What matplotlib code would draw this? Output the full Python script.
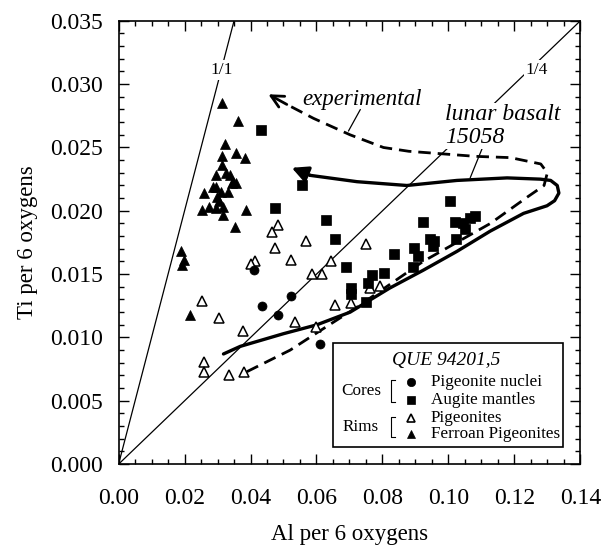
import numpy as np
import matplotlib.pyplot as plt
from matplotlib.ticker import MultipleLocator, FormatStrFormatter

plt.rcParams['font.family'] = ['Liberation Serif', 'DejaVu Serif']

# QUE 94201,5 pyroxene analyses (Al, Ti per 6 oxygens)
# cores: pigeonite nuclei
nuc_al = [0.0410, 0.0434, 0.0483, 0.0524, 0.0610]
nuc_ti = [0.0153, 0.0125, 0.0118, 0.0133, 0.0095]

# cores: augite mantles
aug_al = [0.0431, 0.0473, 0.0556, 0.0630, 0.0655, 0.0689, 0.0704, 0.0704, 0.0749,
          0.0756, 0.0767, 0.0805, 0.0834, 0.0896, 0.0908, 0.0893, 0.0923, 0.0944,
          0.0956, 0.0954, 0.1006, 0.1019, 0.1045, 0.1050, 0.1022, 0.1080, 0.1065]
aug_ti = [0.0264, 0.0202, 0.0220, 0.0193, 0.0178, 0.0156, 0.0139, 0.0134, 0.0128,
          0.0143, 0.0149, 0.0151, 0.0166, 0.0171, 0.0164, 0.0156, 0.0191, 0.0178,
          0.0176, 0.0172, 0.0208, 0.0191, 0.0190, 0.0186, 0.0178, 0.0196, 0.0194]

# rims: pigeonites
pig_al = [0.0483, 0.0466, 0.0569, 0.0475, 0.0524, 0.0643, 0.0413, 0.0400, 0.0587,
          0.0618, 0.0655, 0.0252, 0.0303, 0.0377, 0.0535, 0.0598, 0.0258, 0.0258,
          0.0335, 0.0379, 0.0749, 0.0792, 0.0762, 0.0704]
pig_ti = [0.0189, 0.0183, 0.0176, 0.0171, 0.0161, 0.0160, 0.0160, 0.0158, 0.0150,
          0.0150, 0.0126, 0.0129, 0.0115, 0.0105, 0.0112, 0.0108, 0.0081, 0.0073,
          0.0070, 0.0073, 0.0174, 0.0141, 0.0139, 0.0127]

# rims: ferroan pigeonites
fer_al = [0.0314, 0.0363, 0.0322, 0.0357, 0.0382, 0.0313, 0.0313, 0.0294, 0.0337,
          0.0347, 0.0357, 0.0259, 0.0296, 0.0312, 0.0332, 0.0254, 0.0274, 0.0294,
          0.0316, 0.0385, 0.0352, 0.0190, 0.0197, 0.0193, 0.0215, 0.0299, 0.0287,
          0.0345, 0.0316, 0.0305, 0.0325]
fer_ti = [0.0285, 0.0271, 0.0253, 0.0246, 0.0242, 0.0243, 0.0236, 0.0228, 0.0228,
          0.0223, 0.0222, 0.0214, 0.0219, 0.0215, 0.0215, 0.0201, 0.0203, 0.0202,
          0.0203, 0.0201, 0.0187, 0.0168, 0.0161, 0.0157, 0.0118, 0.0211, 0.0219,
          0.0222, 0.0197, 0.0208, 0.0230]

# experimental trend (dashed), ends with open arrow
exp_al = [0.0389, 0.0520, 0.0621, 0.0723, 0.0923, 0.1127, 0.1240, 0.1290, 0.1300,
          0.1280, 0.1188, 0.1082, 0.0981, 0.0880, 0.0803, 0.0702, 0.0591, 0.0510, 0.0454]
exp_ti = [0.0073, 0.0090, 0.0107, 0.0124, 0.0160, 0.0190, 0.0211, 0.0220, 0.0230,
          0.0237, 0.0242, 0.0243, 0.0245, 0.0247, 0.0250, 0.0260, 0.0273, 0.0284, 0.0292]

# lunar basalt 15058 trend (solid), ends with filled arrow
lun_al = [0.0318, 0.0369, 0.0500, 0.0601, 0.0702, 0.0822, 0.0923, 0.1026, 0.1127,
          0.1228, 0.1299, 0.1322, 0.1335, 0.1330, 0.1310, 0.1279, 0.1178, 0.1026,
          0.0874, 0.0723, 0.0581, 0.0525]
lun_ti = [0.0087, 0.0093, 0.0103, 0.0110, 0.0120, 0.0139, 0.0153, 0.0168, 0.0184,
          0.0198, 0.0204, 0.0208, 0.0214, 0.0220, 0.0224, 0.0225, 0.0226, 0.0224,
          0.0220, 0.0223, 0.0228, 0.0234]

ratio_labels = ['1/1', '1/4']
ratios = [1.0, 0.25]

legend_labels = ['Pigeonite nuclei', 'Augite mantles', 'Pigeonites', 'Ferroan Pigeonites']

fig = plt.figure(figsize=(6.02, 5.48), dpi=100)
ax = fig.add_axes([0.197, 0.153, 0.767, 0.809])
ax.set_xlim(0, 0.14)
ax.set_ylim(0, 0.035)

# Ti/Al reference lines
for lab, r in zip(ratio_labels, ratios):
    xe = min(0.14, 0.035 / r)
    ax.plot([0, xe], [0, xe * r], color='k', lw=0.9, zorder=1)
ax.text(0.0313, 0.0311, ratio_labels[0], fontsize=12.5, ha='center', va='center',
        bbox=dict(fc='white', ec='none', pad=1.5), zorder=2)
ax.text(0.1269, 0.0311, ratio_labels[1], fontsize=12.5, ha='center', va='center',
        bbox=dict(fc='white', ec='none', pad=1.5), zorder=2)

# trends
ax.plot(exp_al[:-1], exp_ti[:-1], color='k', lw=2.0, ls=(0, (4.5, 2.5)), zorder=3)
ax.annotate('', xy=(exp_al[-1], exp_ti[-1]),
            xytext=(exp_al[-2], exp_ti[-2]),
            arrowprops=dict(arrowstyle='->', lw=2.0, color='k', mutation_scale=22,
                            shrinkA=0, shrinkB=0), zorder=3)
ax.plot(lun_al[:-1], lun_ti[:-1], color='k', lw=2.4, zorder=3, solid_capstyle='round')
ax.annotate('', xy=(lun_al[-1], lun_ti[-1]),
            xytext=(lun_al[-2], lun_ti[-2]),
            arrowprops=dict(arrowstyle='-|>', lw=2.4, color='k', mutation_scale=24,
                            shrinkA=0, shrinkB=0), zorder=3)

# annotation text
ax.text(0.0737, 0.0288, 'experimental', fontsize=16.5, style='italic',
        ha='center', va='center', zorder=4)
ax.annotate('', xy=(0.0697, 0.0263), xytext=(0.0733, 0.0280),
            arrowprops=dict(arrowstyle='-', lw=0.9, color='k', shrinkA=0, shrinkB=0))
ax.text(0.0990, 0.0267, 'lunar basalt\n15058', fontsize=17, style='italic',
        ha='left', va='center', linespacing=1.12, zorder=4,
        bbox=dict(fc='white', ec='none', pad=0.5))
ax.annotate('', xy=(0.1066, 0.0226), xytext=(0.1102, 0.0249),
            arrowprops=dict(arrowstyle='-', lw=0.9, color='k', shrinkA=0, shrinkB=0))

# data
ax.plot(fer_al, fer_ti, ls='none', marker='^', ms=7.5, mfc='k', mec='k', mew=0.5, zorder=5)
ax.plot(pig_al, pig_ti, ls='none', marker='^', ms=6.5, mfc='white', mec='k', mew=1.1, zorder=5)
ax.plot(aug_al, aug_ti, ls='none', marker='s', ms=7.0, mfc='k', mec='k', mew=0.5, zorder=5)
ax.plot(nuc_al, nuc_ti, ls='none', marker='o', ms=6.5, mfc='k', mec='k', mew=0.5, zorder=5)

# legend box (drawn by hand to get the Cores / Rims brackets)
box = plt.Rectangle((0.465, 0.038), 0.498, 0.235, transform=ax.transAxes,
                    fc='white', ec='k', lw=1.2, zorder=6)
ax.add_patch(box)
ax.text(0.710, 0.233, 'QUE 94201,5', transform=ax.transAxes, fontsize=14,
        style='italic', ha='center', va='center', zorder=7)
row_y = [0.186, 0.1445, 0.103, 0.067]
row_marker = ['o', 's', '^', '^']
row_fill = ['k', 'k', 'white', 'k']
row_ms = [6.0, 5.2, 5.8, 6.3]
for yy, lab, mk, fc, ms in zip(row_y, legend_labels, row_marker, row_fill, row_ms):
    ax.plot([0.634], [yy], transform=ax.transAxes, marker=mk, ms=ms, mfc=fc,
            mec='k', mew=1.2 if fc == 'white' else 0.5, ls='none', zorder=7)
    ax.text(0.6765, yy, lab, transform=ax.transAxes, fontsize=12.3,
            ha='left', va='center', zorder=7)
for txt, yc, y0, y1 in [('Cores', 0.165, 0.1406, 0.1896), ('Rims', 0.084, 0.0616, 0.1054)]:
    ax.text(0.525, yc, txt, transform=ax.transAxes, fontsize=12.3,
            ha='center', va='center', zorder=7)
    ax.plot([0.5992, 0.5905, 0.5905, 0.5992], [y1, y1, y0, y0], transform=ax.transAxes,
            color='k', lw=0.8, zorder=7)

# axes styling
ax.xaxis.set_major_locator(MultipleLocator(0.02))
ax.xaxis.set_minor_locator(MultipleLocator(0.005))
ax.yaxis.set_major_locator(MultipleLocator(0.005))
ax.yaxis.set_minor_locator(MultipleLocator(0.001))
ax.xaxis.set_major_formatter(FormatStrFormatter('%.2f'))
ax.yaxis.set_major_formatter(FormatStrFormatter('%.3f'))
ax.tick_params(which='both', direction='in', top=True, right=True, width=1.0)
ax.tick_params(which='major', length=7)
ax.tick_params(which='minor', length=3.5)
ax.tick_params(axis='x', which='major', labelsize=17, pad=17)
ax.tick_params(axis='y', which='major', labelsize=17, pad=11)
for sp in ax.spines.values():
    sp.set_linewidth(1.2)

ax.set_xlabel('Al per 6 oxygens', fontsize=16.5, labelpad=11)
ax.set_ylabel('Ti per 6 oxygens', fontsize=16.5, labelpad=9)

fig.savefig('out.png', dpi=100)
